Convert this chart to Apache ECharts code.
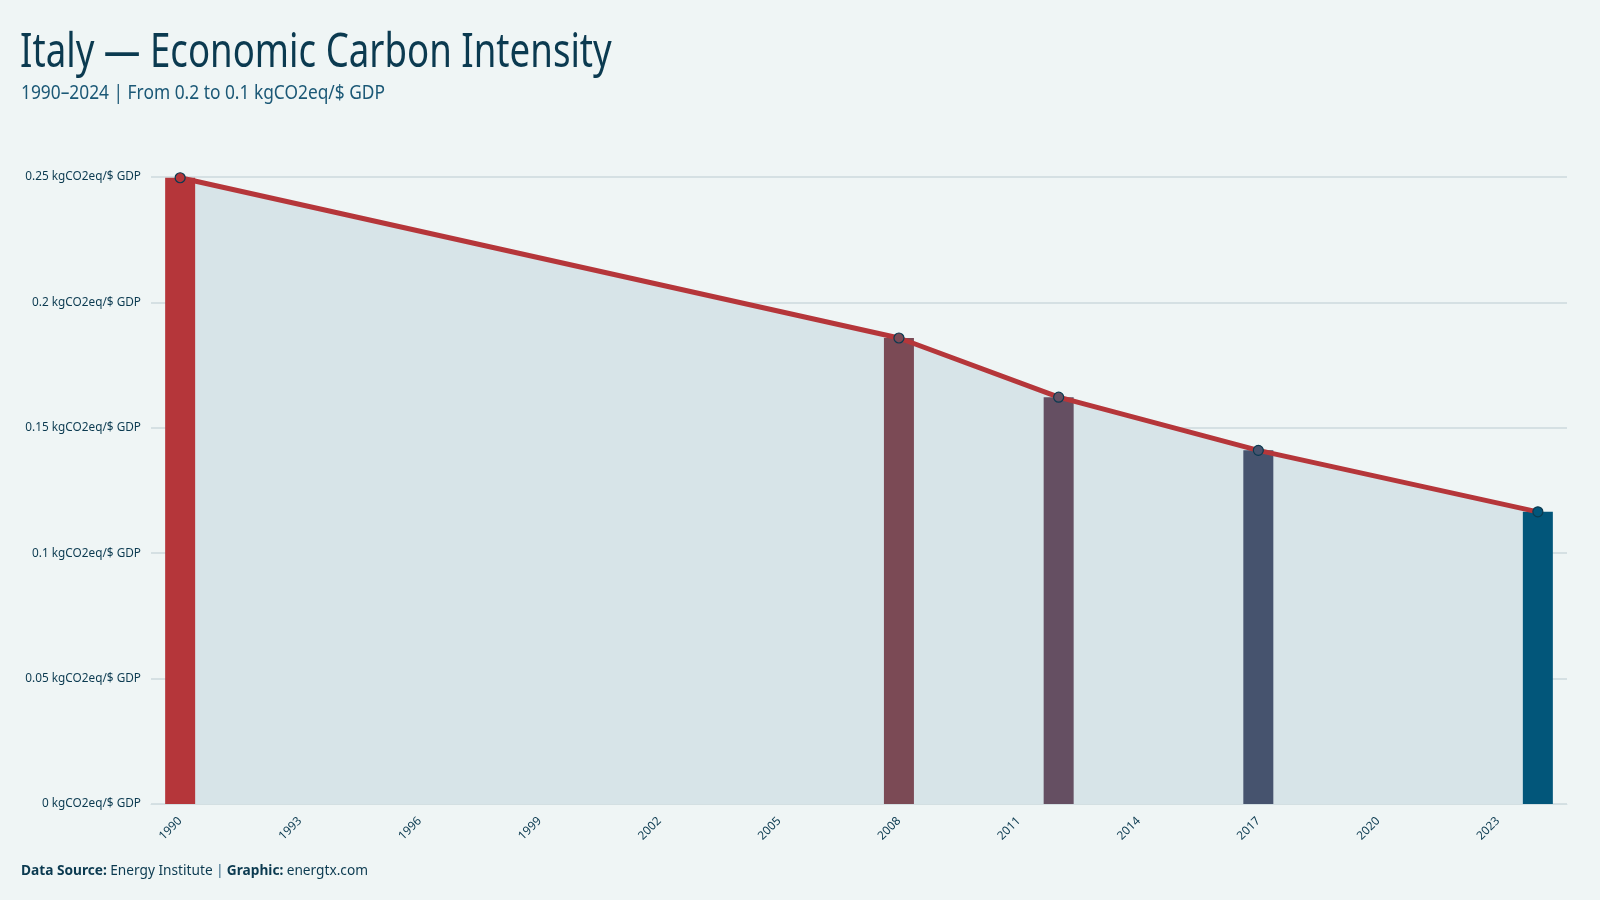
<!DOCTYPE html>
<html>
<head>
<meta charset="utf-8">
<script src="https://cdn.jsdelivr.net/npm/echarts@6/dist/echarts.min.js"></script>
<style>
  html, body { margin: 0; padding: 0; background: #eff5f5; }
  #chart { width: 1600px; height: 900px; }
</style>
</head>
<body>
<div id="chart"></div>
<script>
// data
const years = [1990, 2008, 2012, 2017, 2024];
const intensity = [0.2497, 0.1858, 0.1622, 0.1410, 0.1165];
const barColors = ["#b5363a", "#7b4a55", "#654f62", "#46536e", "#02567a"];
const yearTicks = [1990, 1993, 1996, 1999, 2002, 2005, 2008, 2011, 2014, 2017, 2020, 2023];
const yTicks = [0, 0.05, 0.1, 0.15, 0.2, 0.25];

const dark = "#0b3a50";
const points = years.map((y, i) => [y, intensity[i]]);

const chart = echarts.init(document.getElementById("chart"));
chart.setOption({
  backgroundColor: "#eff5f5",
  animation: false,
  textStyle: { fontFamily: "Noto Sans, DejaVu Sans, sans-serif" },
  grid: { left: 151, right: 33, top: 177, bottom: 96, containLabel: false },
  graphic: [
    {
      // title font is condensed in the original, squeeze ours to the same width
      type: "text", x: 20, y: 29, scaleX: 0.763,
      style: {
        text: "Italy \u2014 Economic Carbon Intensity",
        font: "48px 'Noto Sans', sans-serif",
        fill: dark
      }
    },
    {
      type: "text", x: 21, y: 83, scaleX: 0.846,
      style: {
        text: "1990\u20132024 | From 0.2 to 0.1 kgCO2eq/$ GDP",
        font: "20.5px 'Noto Sans', sans-serif",
        fill: "#1b5876"
      }
    },
    {
      type: "text", x: 21, y: 864,
      style: {
        text: "{b|Data Source:} {r|Energy Institute} {p||} {b|Graphic:} {r|energtx.com}",
        rich: {
          b: { font: "bold 13.7px 'Noto Sans', sans-serif", fill: dark },
          r: { font: "13.7px 'Noto Sans', sans-serif", fill: dark },
          p: { font: "bold 13.7px 'Noto Sans', sans-serif", fill: "#6f93a8" }
        }
      }
    }
  ],
  xAxis: {
    type: "value",
    min: 1989.27,
    max: 2024.73,
    splitLine: { show: false },
    axisLine: { show: true, lineStyle: { color: "#d3dfe2", width: 1 } },
    axisTick: { show: false },
    axisLabel: {
      customValues: yearTicks,
      rotate: 45,
      margin: 15,
      fontSize: 11.8,
      color: dark,
      formatter: v => String(v)
    }
  },
  yAxis: {
    type: "value",
    min: 0,
    max: 0.25,
    interval: 0.05,
    axisLine: { show: false },
    axisTick: { show: false },
    splitLine: { lineStyle: { color: "#ccd8dc", width: 1.5 } },
    axisLabel: {
      fontSize: 11.8,
      color: dark,
      margin: 10,
      formatter: v => {
        const t = yTicks.find(k => Math.abs(k - v) < 1e-9);
        return (t !== undefined ? t : v) + " kgCO2eq/$ GDP";
      }
    }
  },
  series: [
    {
      // filled area under the line
      type: "line",
      data: points,
      z: 1,
      symbol: "none",
      lineStyle: { width: 0 },
      areaStyle: { color: "#d7e4e8", opacity: 1 },
      silent: true
    },
    {
      type: "bar",
      z: 2,
      barWidth: 30,
      data: points.map((p, i) => ({ value: p, itemStyle: { color: barColors[i] } }))
    },
    {
      type: "line",
      z: 3,
      data: points.map((p, i) => ({ value: p, itemStyle: { color: barColors[i] } })),
      symbol: "circle",
      symbolSize: 10,
      lineStyle: { color: "#b5363a", width: 5 },
      itemStyle: { borderColor: dark, borderWidth: 1.2 }
    }
  ]
});
</script>
</body>
</html>
